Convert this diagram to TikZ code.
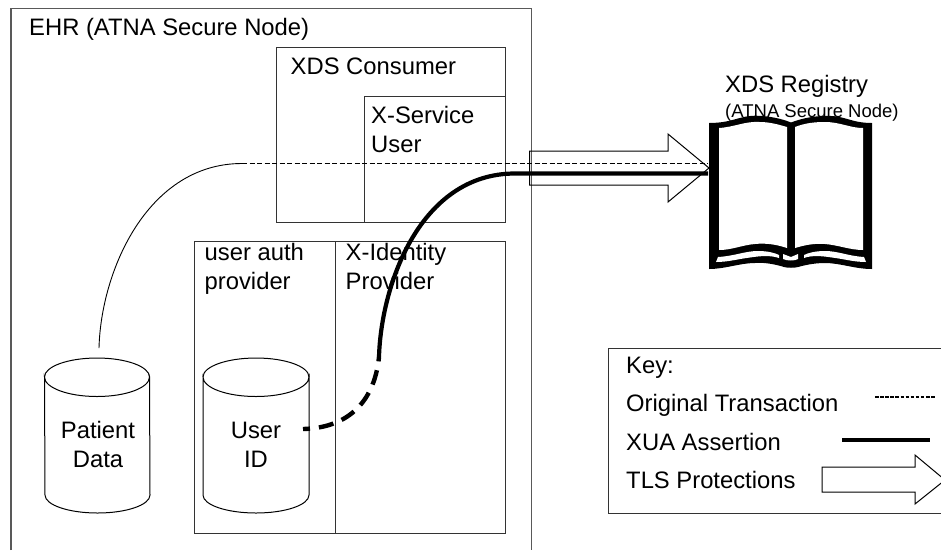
\documentclass[tikz,border=0pt]{standalone}
\usepackage{fontspec}
\setmainfont{Liberation Sans}
\tikzset{
  box/.style={draw=black!80,line width=1pt},
  label/.style={anchor=base west,inner sep=0pt,font=\fontsize{23.8}{23.8}\selectfont},
  clabel/.style={anchor=base,inner sep=0pt,font=\fontsize{23.8}{23.8}\selectfont},
  origline/.style={line width=1.8pt,dash pattern=on 5pt off 2.5pt},
  thinline/.style={line width=0.9pt},
  xua/.style={line width=4.2pt},
  tls/.style={draw=black,line width=1pt,fill=none},
  cyl/.style={draw=black,line width=1pt,fill=white},
}
\begin{document}
\begin{tikzpicture}[x=1pt,y=-1pt]
\useasboundingbox (0,0) rectangle (941,550);
% EHR
\draw[draw=black!65,line width=1.2pt] (11,550) -- (11,8.5) -- (531.5,8.5) -- (531.5,550);
\node[label] (ehr) at (29,35) {EHR (ATNA Secure Node)};
% consumer
\node[box,minimum width=229.5pt,minimum height=175pt,anchor=north west,inner sep=0pt] (consumer) at (275.5,46.5) {};
\node[box,minimum width=141pt,minimum height=126pt,anchor=north west,inner sep=0pt] (service) at (364,95.5) {};
\node[label] at (290.5,74.7) {XDS Consumer};
\node[label] at (371,123.7) {X-Service};
\node[label] at (371,152.7) {User};
% auth
\node[box,minimum width=141pt,minimum height=292pt,anchor=north west,inner sep=0pt] (auth) at (194,241) {};
\node[box,minimum width=170pt,minimum height=292pt,anchor=north west,inner sep=0pt] (idp) at (335,241) {};
\node[label] at (204.5,260.7) {user auth};
\node[label] at (204.5,289.7) {provider};
\node[label] at (345.5,260.7) {X-Identity};
\node[label] at (345.5,289.7) {Provider};
% cylinders
\draw[cyl] (44.5,377) arc[start angle=180,end angle=0,x radius=52.5,y radius=19.5] -- (150,495) arc[start angle=0,end angle=180,x radius=52.5,y radius=18] -- cycle;
\draw[cyl,fill=none] (44.5,377) arc[start angle=180,end angle=360,x radius=52.5,y radius=19];
\draw[cyl] (203,377) arc[start angle=180,end angle=0,x radius=53,y radius=19.5] -- (309,495) arc[start angle=0,end angle=180,x radius=53,y radius=18] -- cycle;
\draw[cyl,fill=none] (203,377) arc[start angle=180,end angle=360,x radius=53,y radius=19];
\node[clabel] (patient) at (98,438.7) {Patient};
\node[clabel] at (98,467.7) {Data};
\node[clabel] (userid) at (256,438.7) {User};
\node[clabel] at (256,467.7) {ID};
% registry
\node[label] at (725,92.7) {XDS Registry};
\node[label,font=\fontsize{18.5}{18.5}\selectfont] at (725,117.5) {(ATNA Secure Node)};
\fill[black] (709,123) .. controls (735,123) and (740,114) .. (762,116) .. controls (775,117) and (785,120) .. (791,122.5) .. controls (800,119) and (812,116) .. (825,116) .. controls (845,115) and (850,123) .. (872,123) -- (872,269) .. controls (855,269) and (840,263) .. (825,263) .. controls (812,263) and (802,266) .. (798,267) .. controls (795,268) and (787,268) .. (784,267) .. controls (778,265) and (765,262) .. (755,263) .. controls (740,263) and (725,269) .. (709,269) -- cycle;
\fill[white] (719,128) .. controls (735,127) and (745,121) .. (760,122) .. controls (770,122) and (780,125) .. (787,127) -- (787,248) .. controls (775,244) and (765,243) .. (755,244) .. controls (742,245) and (732,250) .. (719,250) -- cycle;
\fill[white] (795,127) .. controls (805,123) and (815,122) .. (825,122) .. controls (840,122) and (850,128) .. (863,128) -- (863,250) .. controls (850,250) and (838,245) .. (825,244) .. controls (812,243) and (802,246) .. (795,248) -- cycle;
\fill[white] (716,262) -- (718,257) .. controls (735,256) and (745,251) .. (758,251) .. controls (768,251) and (775,253) .. (779,255) -- (779,258) .. controls (770,255) and (760,256) .. (750,257.5) .. controls (738,259) and (728,262) .. (716,262) -- cycle;
\fill[white] (866,262) -- (864,257) .. controls (848,256) and (838,251) .. (825,251) .. controls (815,251) and (808,253) .. (804,255) -- (804,258) .. controls (812,255) and (822,256) .. (832,257.5) .. controls (844,259) and (854,262) .. (866,262) -- cycle;
\fill[white] (783,254) -- (791,257) -- (798,254) -- (798,259) .. controls (795,261) and (787,261) .. (783,259) -- cycle;
\coordinate (regin) at (708,163.5);
\coordinate (regxua) at (708,173.5);
\coordinate (regarrow) at (709,168);
% TLS arrow
\draw[tls] (529.5,151) -- (668,151) -- (668,134) -- (regarrow) -- (668,202) -- (668,185) -- (529.5,185) -- cycle;
% connectors
\coordinate (pstart) at (99,348);
\coordinate (cross) at (242,163.5);
\draw[thinline] (pstart) .. controls (101,270) and (148,163.5) .. (cross);
\draw[origline] (cross) -- (regin);
\coordinate (xstart) at (303,429);
\coordinate (xmid) at (379,357);
\draw[line width=4.4pt,dash pattern=on 15pt off 9pt,dash phase=8pt] (xstart) .. controls (345,428) and (374,405) .. (xmid);
\draw[xua] (xmid) .. controls (381,285) and (420,173.5) .. (515,173.5) -- (regxua);
% key
\draw[draw=black!80,line width=1pt] (941,348) -- (608.5,348) -- (608.5,513) -- (941,513);
\node[label] at (626,373.7) {Key:};
\node[label] at (626,411.7) {Original Transaction};
\node[label] at (626,450.7) {XUA Assertion};
\node[label] at (626,488.7) {TLS Protections};
\coordinate (ka) at (875,397);
\coordinate (kb) at (935,397);
\draw[line width=1.5pt,dash pattern=on 3.5pt off 1.6pt] (ka) -- (kb);
\coordinate (kc) at (842,440);
\coordinate (kd) at (930,440);
\draw[xua] (kc) -- (kd);
\draw[tls] (822,467) -- (915,467) -- (915,455) -- (945,480) -- (915,504) -- (915,492) -- (822,492) -- cycle;
\end{tikzpicture}
\end{document}
